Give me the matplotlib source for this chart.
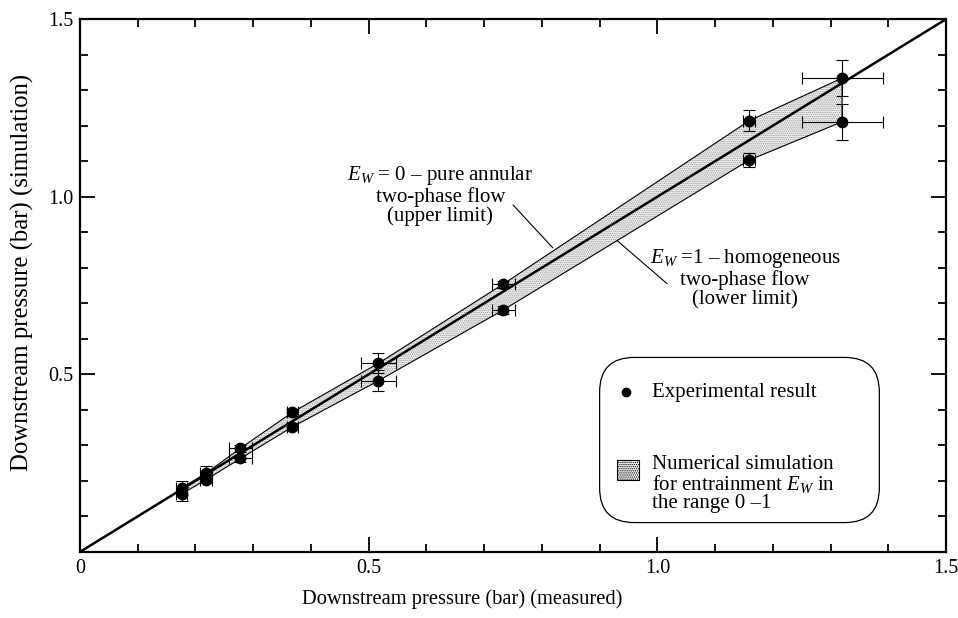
import matplotlib
matplotlib.use('Agg')
import matplotlib.pyplot as plt
from matplotlib.patches import FancyBboxPatch, Rectangle
from matplotlib.ticker import MultipleLocator

plt.rcParams['font.family'] = 'Liberation Serif'
plt.rcParams['mathtext.fontset'] = 'custom'
plt.rcParams['mathtext.rm'] = 'Liberation Serif'
plt.rcParams['mathtext.it'] = 'Liberation Serif:italic'
plt.rcParams['hatch.linewidth'] = 0.6

# measured downstream pressure (bar)
p_measured = [0.176, 0.218, 0.278, 0.368, 0.517, 0.733, 1.159, 1.32]
# simulated, E_W = 0 (upper limit) and E_W = 1 (lower limit)
p_upper = [0.180, 0.221, 0.292, 0.393, 0.531, 0.754, 1.214, 1.334]
p_lower = [0.163, 0.203, 0.263, 0.352, 0.482, 0.681, 1.103, 1.211]
# error bars
xerr_upper = [0.01, 0.01, 0.02, 0.01, 0.03, 0.02, 0.01, 0.07]
yerr_upper = [0.02, 0.02, 0.01, 0.01, 0.028, 0.01, 0.03, 0.05]
xerr_lower = [0.01, 0.01, 0.02, 0.01, 0.03, 0.02, 0.01, 0.07]
yerr_lower = [0.02, 0.01, 0.01, 0.01, 0.03, 0.01, 0.02, 0.05]

xtick_vals = [0, 0.5, 1.0, 1.5]
xtick_labels = ['0', '0.5', '1.0', '1.5']
ytick_vals = [0, 0.5, 1.0, 1.5]
ytick_labels = ['', '0.5', '1.0', '1.5']

fig = plt.figure(figsize=(9.58, 6.18), dpi=100)
ax = fig.add_axes([0.0835, 0.107, 0.904, 0.862])

# shaded band between the two limits
band_x = p_measured + p_measured[::-1]
band_y = p_upper + p_lower[::-1]
ax.fill(band_x, band_y, facecolor='#ededed', edgecolor='#9a9a9a', hatch='........', lw=0, zorder=1)
ax.fill(band_x, band_y, facecolor='none', edgecolor='black', lw=0.8, zorder=2)

# perfect agreement line
ax.plot([0, 1.5], [0, 1.5], color='black', lw=1.8, zorder=3)

# experimental points
ax.errorbar(p_measured, p_upper, xerr=xerr_upper, yerr=yerr_upper, fmt='o', color='black',
            ms=7.5, elinewidth=0.8, capsize=4, capthick=0.8, zorder=4)
ax.errorbar(p_measured, p_lower, xerr=xerr_lower, yerr=yerr_lower, fmt='o', color='black',
            ms=7.5, elinewidth=0.8, capsize=4, capthick=0.8, zorder=4)

# annotations with leader lines
ax.text(0.624, 1.005, '$E_W$ = 0 – pure annular\ntwo-phase flow\n(upper limit)',
        ha='center', va='center', fontsize=15, linespacing=1.0)
ax.annotate('', xy=(0.819, 0.856), xytext=(0.750, 0.977),
            arrowprops=dict(arrowstyle='-', color='black', lw=0.8, shrinkA=0, shrinkB=0))
ax.text(1.152, 0.771, '$E_W$ =1 – homogeneous\ntwo-phase flow\n(lower limit)',
        ha='center', va='center', fontsize=15, linespacing=1.0)
ax.annotate('', xy=(0.930, 0.877), xytext=(1.017, 0.755),
            arrowprops=dict(arrowstyle='-', color='black', lw=0.8, shrinkA=0, shrinkB=0))

# legend box
ax_w = 0.904 * 958
ax_h = 0.862 * 618
box = FancyBboxPatch((0.6, 0.055), 0.323, 0.31, boxstyle='round,pad=0,rounding_size=0.04',
                     mutation_aspect=ax_w / ax_h, transform=ax.transAxes,
                     facecolor='white', edgecolor='black', lw=0.9, zorder=5)
ax.add_patch(box)
ax.plot([0.631], [0.3], 'o', color='black', ms=6, transform=ax.transAxes, zorder=6)
ax.text(0.66, 0.3, 'Experimental result', transform=ax.transAxes, fontsize=15,
        va='center', ha='left', zorder=6)
ax.add_patch(Rectangle((0.620, 0.135), 0.026, 0.038, transform=ax.transAxes, facecolor='#ededed',
                       edgecolor='black', hatch='........', lw=0.8, zorder=6))
ax.text(0.66, 0.127, 'Numerical simulation\nfor entrainment $E_W$ in\nthe range 0 –1',
        transform=ax.transAxes, fontsize=15, va='center', ha='left', linespacing=0.95, zorder=6)

ax.set_xlim(0, 1.5)
ax.set_ylim(0, 1.5)
ax.set_xticks(xtick_vals)
ax.set_xticklabels(xtick_labels)
ax.set_yticks(ytick_vals)
ax.set_yticklabels(ytick_labels)
ax.xaxis.set_minor_locator(MultipleLocator(0.1))
ax.yaxis.set_minor_locator(MultipleLocator(0.1))
ax.tick_params(which='both', direction='in', top=True, right=True, width=1.3, labelsize=14.5, pad=5)
ax.tick_params(which='major', length=11)
ax.tick_params(which='minor', length=6)
for sp in ax.spines.values():
    sp.set_linewidth(1.6)

ax.set_xlabel('Downstream pressure (bar) (measured)', fontsize=14.8)
ax.xaxis.set_label_coords(0.441, -0.07)
ax.set_ylabel('Downstream pressure (bar) (simulation)', fontsize=17.8)
ax.yaxis.set_label_coords(-0.053, 0.525)

fig.savefig('out.png', dpi=100)
